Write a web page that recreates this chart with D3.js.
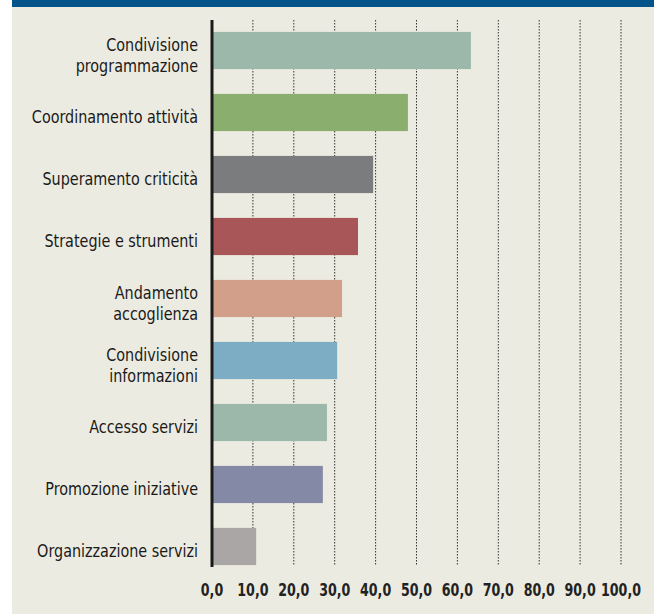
<!DOCTYPE html>
<html><head><meta charset="utf-8">
<script src="https://cdn.jsdelivr.net/npm/d3@7"></script>
<style>
html,body{margin:0;padding:0;background:#fff;}
svg{display:block;}
</style></head>
<body>
<script>
const categories = [
  ["Condivisione","programmazione"],
  ["Coordinamento attività"],
  ["Superamento criticità"],
  ["Strategie e strumenti"],
  ["Andamento","accoglienza"],
  ["Condivisione","informazioni"],
  ["Accesso servizi"],
  ["Promozione iniziative"],
  ["Organizzazione servizi"]
];
const values = [63.3, 47.9, 39.4, 35.7, 31.8, 30.6, 28.1, 27.1, 10.8];
const colors = ["#9bb8ab","#8aae6d","#7a7c7d","#a85658","#d29f8a","#7dacc5","#9bb8ab","#8489a5","#aaa6a5"];
const tickValues = [0,10,20,30,40,50,60,70,80,90,100];

const W = 654, H = 614;
const svg = d3.select("body").append("svg").attr("width", W).attr("height", H);
svg.append("rect").attr("x",12).attr("y",0).attr("width",W-12).attr("height",H).attr("fill","#ecebe1");
svg.append("rect").attr("x",12).attr("y",0).attr("width",W-12).attr("height",7).attr("fill","#02548b");

const x = d3.scaleLinear().domain([0,100]).range([212,621]);
const y = d3.scaleBand().domain(d3.range(categories.length)).range([19.5,577.5]).paddingInner(0.4).paddingOuter(0.2);

const font = "'DejaVu Sans Condensed','Liberation Sans Narrow',sans-serif";

// gridlines
svg.append("g").selectAll("line").data(tickValues.slice(1)).join("line")
  .attr("x1", d=>x(d)).attr("x2", d=>x(d)).attr("y1",20).attr("y2",565)
  .attr("stroke","#333").attr("stroke-width",1).attr("stroke-dasharray","1.5,1.5");

// bars
svg.append("g").selectAll("rect").data(values).join("rect")
  .attr("x", x(0)).attr("y", (d,i)=>y(i))
  .attr("width", d=>x(d)-x(0)).attr("height", y.bandwidth())
  .attr("fill", (d,i)=>colors[i]);

// axis line
svg.append("line").attr("x1",x(0)).attr("x2",x(0)).attr("y1",20).attr("y2",567)
  .attr("stroke","#1a1a1a").attr("stroke-width",3);

// category labels
const lab = svg.append("g").attr("font-family",font).attr("font-size",17).attr("fill","#1a1a1a").attr("text-anchor","end");
categories.forEach((lines,i)=>{
  const cy = y(i)+y.bandwidth()/2;
  const lh = 21;
  const t = lab.append("text").attr("transform",`translate(198,${cy + 10.5}) scale(0.94,1)`);
  lines.forEach((s,k)=>{
    t.append("tspan").attr("x",0).attr("y", (k - (lines.length-1)/2)*lh).text(s);
  });
});

// tick labels
svg.append("g").attr("font-family",font).attr("font-size",18).attr("font-weight","bold").attr("fill","#222").attr("text-anchor","middle")
  .selectAll("text").data(tickValues).join("text")
  .attr("transform", d=>`translate(${x(d)},596) scale(0.78,1)`)
  .text(d=>d3.format(".1f")(d).replace(".",","));
</script>
</body></html>
